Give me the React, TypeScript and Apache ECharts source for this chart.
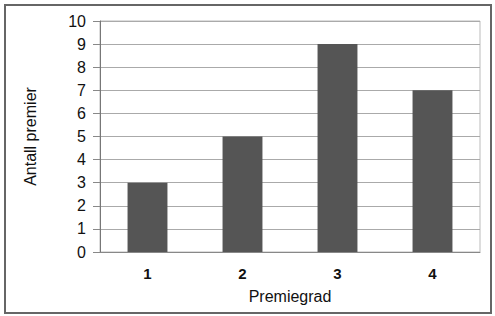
import React, { useEffect, useRef } from "react";
import * as echarts from "echarts";

const categories = ["1", "2", "3", "4"];
const values = [3, 5, 9, 7];
const yTicks = [0, 10, 1];

export default function App() {
  const ref = useRef<HTMLDivElement>(null);
  useEffect(() => {
    const chart = echarts.init(ref.current!, null, { renderer: "svg" });
    const font = "Liberation Sans, Arial, sans-serif";
    chart.setOption({
      animation: false,
      backgroundColor: "#ffffff",
      textStyle: { fontFamily: font },
      graphic: [
        {
          type: "rect",
          shape: { x: 5, y: 5, width: 486, height: 308 },
          style: { fill: "none", stroke: "#666", lineWidth: 2 },
          silent: true,
        },
      ],
      grid: {
        left: 100,
        right: 15,
        top: 21,
        bottom: 64,
        show: true,
        borderColor: "#bbb",
        borderWidth: 1,
      },
      xAxis: {
        type: "category",
        data: categories,
        name: "Premiegrad",
        nameLocation: "middle",
        nameGap: 36,
        nameTextStyle: { fontSize: 16, color: "#111", fontFamily: font },
        axisLine: { lineStyle: { color: "#888", width: 1 } },
        axisTick: { show: false },
        axisLabel: { fontSize: 15, color: "#111", margin: 14, fontWeight: "bold" },
      },
      yAxis: {
        type: "value",
        min: yTicks[0],
        max: yTicks[1],
        interval: yTicks[2],
        name: "Antall premier",
        nameLocation: "middle",
        nameGap: 62,
        nameTextStyle: { fontSize: 16, color: "#111", fontFamily: font },
        axisLine: { show: true, lineStyle: { color: "#777", width: 1 } },
        axisTick: { show: true, length: 7, lineStyle: { color: "#888" } },
        axisLabel: { fontSize: 16, color: "#111", margin: 14 },
        splitLine: { lineStyle: { color: "#aaa", width: 1 } },
      },
      series: [
        {
          type: "bar",
          data: values,
          barWidth: "42%",
          itemStyle: { color: "#555555" },
        },
      ],
    });
    return () => chart.dispose();
  }, []);
  return (
    <div
      ref={ref}
      style={{ position: "fixed", left: 0, top: 0, width: 495, height: 316 }}
    />
  );
}
